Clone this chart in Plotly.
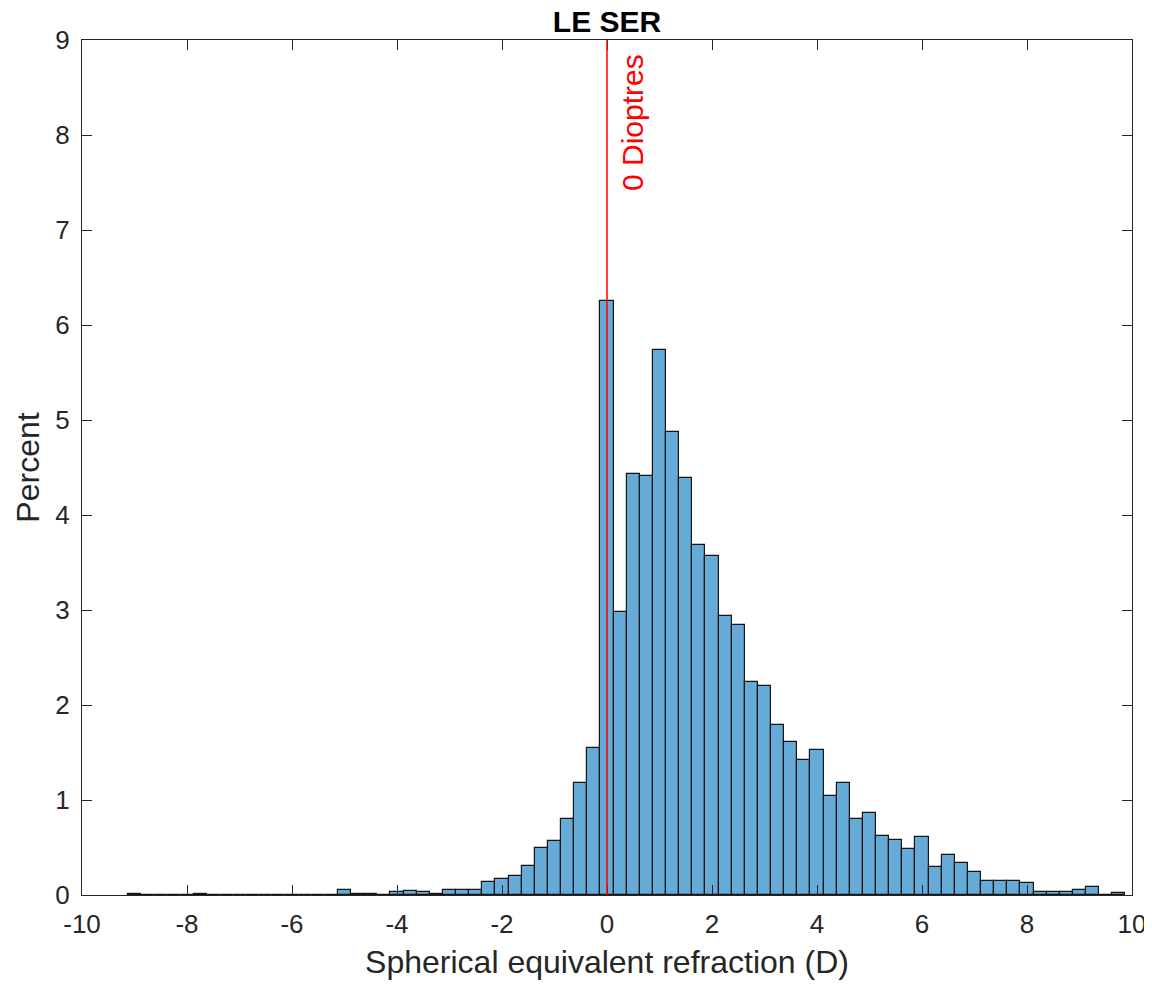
import plotly.graph_objects as go

bin_centers = [-9.0, -8.75, -8.5, -8.25, -8.0, -7.75, -7.5, -7.25, -7.0, -6.75, -6.5, -6.25, -6.0, -5.75, -5.5, -5.25,
               -5.0, -4.75, -4.5, -4.25, -4.0, -3.75, -3.5, -3.25, -3.0, -2.75, -2.5, -2.25, -2.0, -1.75, -1.5, -1.25,
               -1.0, -0.75, -0.5, -0.25, 0.0, 0.25, 0.5, 0.75, 1.0, 1.25, 1.5, 1.75, 2.0, 2.25, 2.5, 2.75,
               3.0, 3.25, 3.5, 3.75, 4.0, 4.25, 4.5, 4.75, 5.0, 5.25, 5.5, 5.75, 6.0, 6.25, 6.5, 6.75,
               7.0, 7.25, 7.5, 7.75, 8.0, 8.25, 8.5, 8.75, 9.0, 9.25, 9.5, 9.75]
percent = [0.015, 0, 0, 0, 0, 0.015, 0, 0, 0, 0, 0, 0, 0, 0, 0, 0,
           0.055, 0.015, 0.015, 0, 0.03, 0.045, 0.03, 0.015, 0.055, 0.055, 0.055, 0.14, 0.17, 0.20, 0.31, 0.50,
           0.57, 0.795, 1.18, 1.55, 6.25, 2.98, 4.43, 4.41, 5.74, 4.875, 4.39, 3.68, 3.565, 2.94, 2.84, 2.24,
           2.20, 1.79, 1.61, 1.42, 1.53, 1.04, 1.18, 0.795, 0.865, 0.626, 0.58, 0.48, 0.61, 0.30, 0.426, 0.34,
           0.243, 0.144, 0.144, 0.144, 0.13, 0.028, 0.028, 0.028, 0.05, 0.088, 0, 0.018]
bin_width = 0.25
x_ticks = list(range(-10, 11, 2))
x_tick_labels = [str(v) for v in x_ticks]
y_ticks = list(range(0, 10))
y_tick_labels = [str(v) for v in y_ticks]
ref_x = 0
ref_label = "0 Dioptres"

font_family = "Liberation Sans, Arial, Helvetica, sans-serif"
axis_color = "#262626"

W, H = 1144, 979

fig = go.Figure()
fig.add_trace(go.Bar(
    x=bin_centers, y=percent, width=bin_width,
    marker=dict(color="#66AAD7", line=dict(color="#151515", width=1.2)),
    showlegend=False,
))

fig.add_shape(type="line", x0=ref_x, x1=ref_x, y0=0, y1=9, xref="x", yref="y",
              line=dict(color="#FF0000", width=1.5))
fig.add_annotation(x=ref_x, y=9, xref="x", yref="y", text=ref_label, textangle=-90,
                   showarrow=False, xanchor="left", yanchor="top", xshift=7, yshift=-12,
                   font=dict(color="#FF0000", size=30, family=font_family))

fig.update_layout(
    width=W, height=H,
    margin=dict(l=74, r=20, t=32, b=92),
    paper_bgcolor="white", plot_bgcolor="white",
    bargap=0,
    title=dict(text="<b>LE SER</b>", x=0.5, xref="paper", xanchor="center", yref="container",
               y=1 - 13 / H, yanchor="middle",
               font=dict(size=30, color="black", family=font_family)),
    font=dict(family=font_family, color=axis_color),
)
fig.update_xaxes(range=[-10, 10], tickvals=x_ticks, ticktext=x_tick_labels, ticks="inside", ticklen=10,
                 tickcolor=axis_color, showline=True, linecolor=axis_color, linewidth=1, mirror="allticks",
                 showgrid=False, zeroline=False, tickfont=dict(size=26, color=axis_color), ticklabelstandoff=6,
                 automargin=False,
                 title=dict(text="Spherical equivalent refraction (D)", font=dict(size=32, color=axis_color), standoff=12))
fig.update_yaxes(range=[0, 9], tickvals=y_ticks, ticktext=y_tick_labels, ticks="inside", ticklen=10,
                 tickcolor=axis_color, showline=True, linecolor=axis_color, linewidth=1, mirror="allticks",
                 showgrid=False, zeroline=False, tickfont=dict(size=26, color=axis_color), ticklabelstandoff=6,
                 automargin=False,
                 title=dict(text="Percent", font=dict(size=32, color=axis_color), standoff=6))

fig.write_html("out.html")
